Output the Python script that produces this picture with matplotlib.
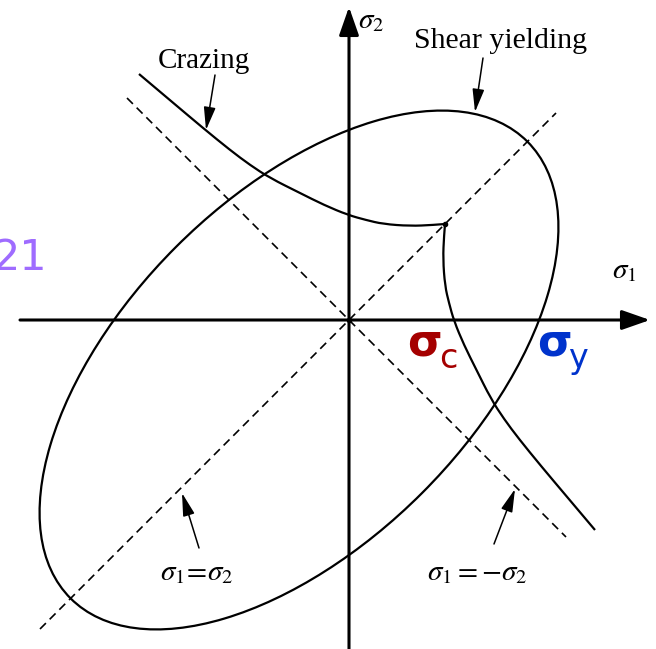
import matplotlib
matplotlib.use('Agg')
import numpy as np
import matplotlib.pyplot as plt
from matplotlib.patches import Ellipse, PathPatch
from matplotlib.path import Path

plt.rcParams['mathtext.fontset'] = 'stix'
plt.rcParams['font.family'] = ['Liberation Serif', 'DejaVu Serif']

# stress plane, arbitrary units (origin where sigma_1 and sigma_2 axes cross)
x_axis = (-3.29, 3.01)
y_axis = (-3.40, 3.13)

# von Mises-type yield envelope, shifted along sigma_1 = sigma_2
yield_center = (-0.50, -0.50)
yield_major = 3.23
yield_minor = 1.74

# crazing envelope, upper branch; the lower one is its mirror about sigma_1 = sigma_2
craze_s1 = [-2.10, -1.78, -1.46, -1.19, -0.99, -0.79, -0.49, -0.25, -0.01, 0.17, 0.34, 0.61, 0.84, 0.96]
craze_s2 = [2.46, 2.19, 1.92, 1.70, 1.55, 1.42, 1.27, 1.15, 1.05, 1.00, 0.96, 0.94, 0.95, 0.96]

# reference lines
equal_line = (-3.09, 2.07)      # sigma_1 = sigma_2, range of sigma_1
opposite_line = (-2.22, 2.17)   # sigma_1 = -sigma_2, range of sigma_1


def smooth_path(xs, ys):
    # quadratic bezier through the midpoints, using the points as control points
    pts = list(zip(xs, ys))
    verts = [pts[0]]
    codes = [Path.MOVETO]
    for i in range(1, len(pts) - 1):
        p, q = pts[i], pts[i + 1]
        end = q if i == len(pts) - 2 else ((p[0] + q[0]) / 2, (p[1] + q[1]) / 2)
        verts += [p, end]
        codes += [Path.CURVE3, Path.CURVE3]
    return Path(verts, codes)


fig = plt.figure(figsize=(6.56, 6.49), dpi=100)
ax = fig.add_axes([0, 0, 1, 1])
ax.set_xlim(-3.49, 3.07)
ax.set_ylim(-3.29, 3.20)
ax.axis('off')

# axes with arrow heads
axis_arrow = dict(arrowstyle='-|>,head_length=0.4,head_width=0.14', mutation_scale=43,
                  lw=2.2, color='black', shrinkA=0, shrinkB=0)
ax.annotate('', xy=(x_axis[1], 0), xytext=(x_axis[0], 0), arrowprops=axis_arrow)
ax.annotate('', xy=(0, y_axis[1]), xytext=(0, y_axis[0]), arrowprops=axis_arrow)

# dashed guide lines
t = np.array(equal_line)
ax.plot(t, t, color='black', lw=1.2, dashes=(5.0, 3.2))
t = np.array(opposite_line)
ax.plot(t, -t, color='black', lw=1.2, dashes=(5.0, 3.2))

# yield ellipse
ax.add_patch(Ellipse(yield_center, 2 * yield_major, 2 * yield_minor, angle=45,
                     fill=False, ec='black', lw=1.6))

# crazing curves
ax.add_patch(PathPatch(smooth_path(craze_s1, craze_s2), fill=False, ec='black', lw=1.6))
ax.add_patch(PathPatch(smooth_path(craze_s2, craze_s1), fill=False, ec='black', lw=1.6))
ax.plot([craze_s1[-1], 0], [craze_s2[-1], 0], ls='none', marker='o', ms=3, color='black')

# labels and pointers
pointer = dict(arrowstyle='-|>,head_length=0.7,head_width=0.18', mutation_scale=20,
               lw=1.1, color='black', shrinkA=0, shrinkB=0)
ax.annotate('', xy=(-1.43, 1.90), xytext=(-1.34, 2.45), arrowprops=pointer)
ax.annotate('', xy=(1.26, 2.08), xytext=(1.34, 2.62), arrowprops=pointer)
ax.annotate('', xy=(-1.67, -1.73), xytext=(-1.50, -2.28), arrowprops=pointer)
ax.annotate('', xy=(1.66, -1.69), xytext=(1.45, -2.24), arrowprops=pointer)

ax.text(-1.455, 2.52, 'Crazing', fontsize=21, ha='center', va='baseline')
ax.text(1.515, 2.72, 'Shear yielding', fontsize=21.5, ha='center', va='baseline')
ax.text(0.09, 2.92, r'$\sigma_2$', fontsize=21, ha='left', va='baseline')
ax.text(2.63, 0.42, r'$\sigma_1$', fontsize=21, ha='left', va='baseline')
ax.text(-1.89, -2.60, r'$\sigma_1\!=\!\sigma_2$', fontsize=21, ha='left', va='baseline')
ax.text(0.78, -2.60, r'$\sigma_1 = -\sigma_2$', fontsize=21, ha='left', va='baseline')

# coloured annotations
ax.text(-3.01, 0.50, '21', fontsize=31, color='#9f6cff', ha='right', va='baseline',
        family='DejaVu Sans')
ax.text(0.58, -0.35, 'σ', fontsize=32, color='#a50000', fontweight='bold',
        ha='left', va='baseline', family='DejaVu Sans')
ax.text(0.90, -0.48, 'c', fontsize=24, color='#a50000', ha='left', va='baseline',
        family='DejaVu Sans')
ax.text(1.88, -0.35, 'σ', fontsize=32, color='#0033cc', fontweight='bold',
        ha='left', va='baseline', family='DejaVu Sans')
ax.text(2.19, -0.48, 'y', fontsize=24, color='#0033cc', ha='left', va='baseline',
        family='DejaVu Sans')

fig.savefig('out.png', dpi=100)
